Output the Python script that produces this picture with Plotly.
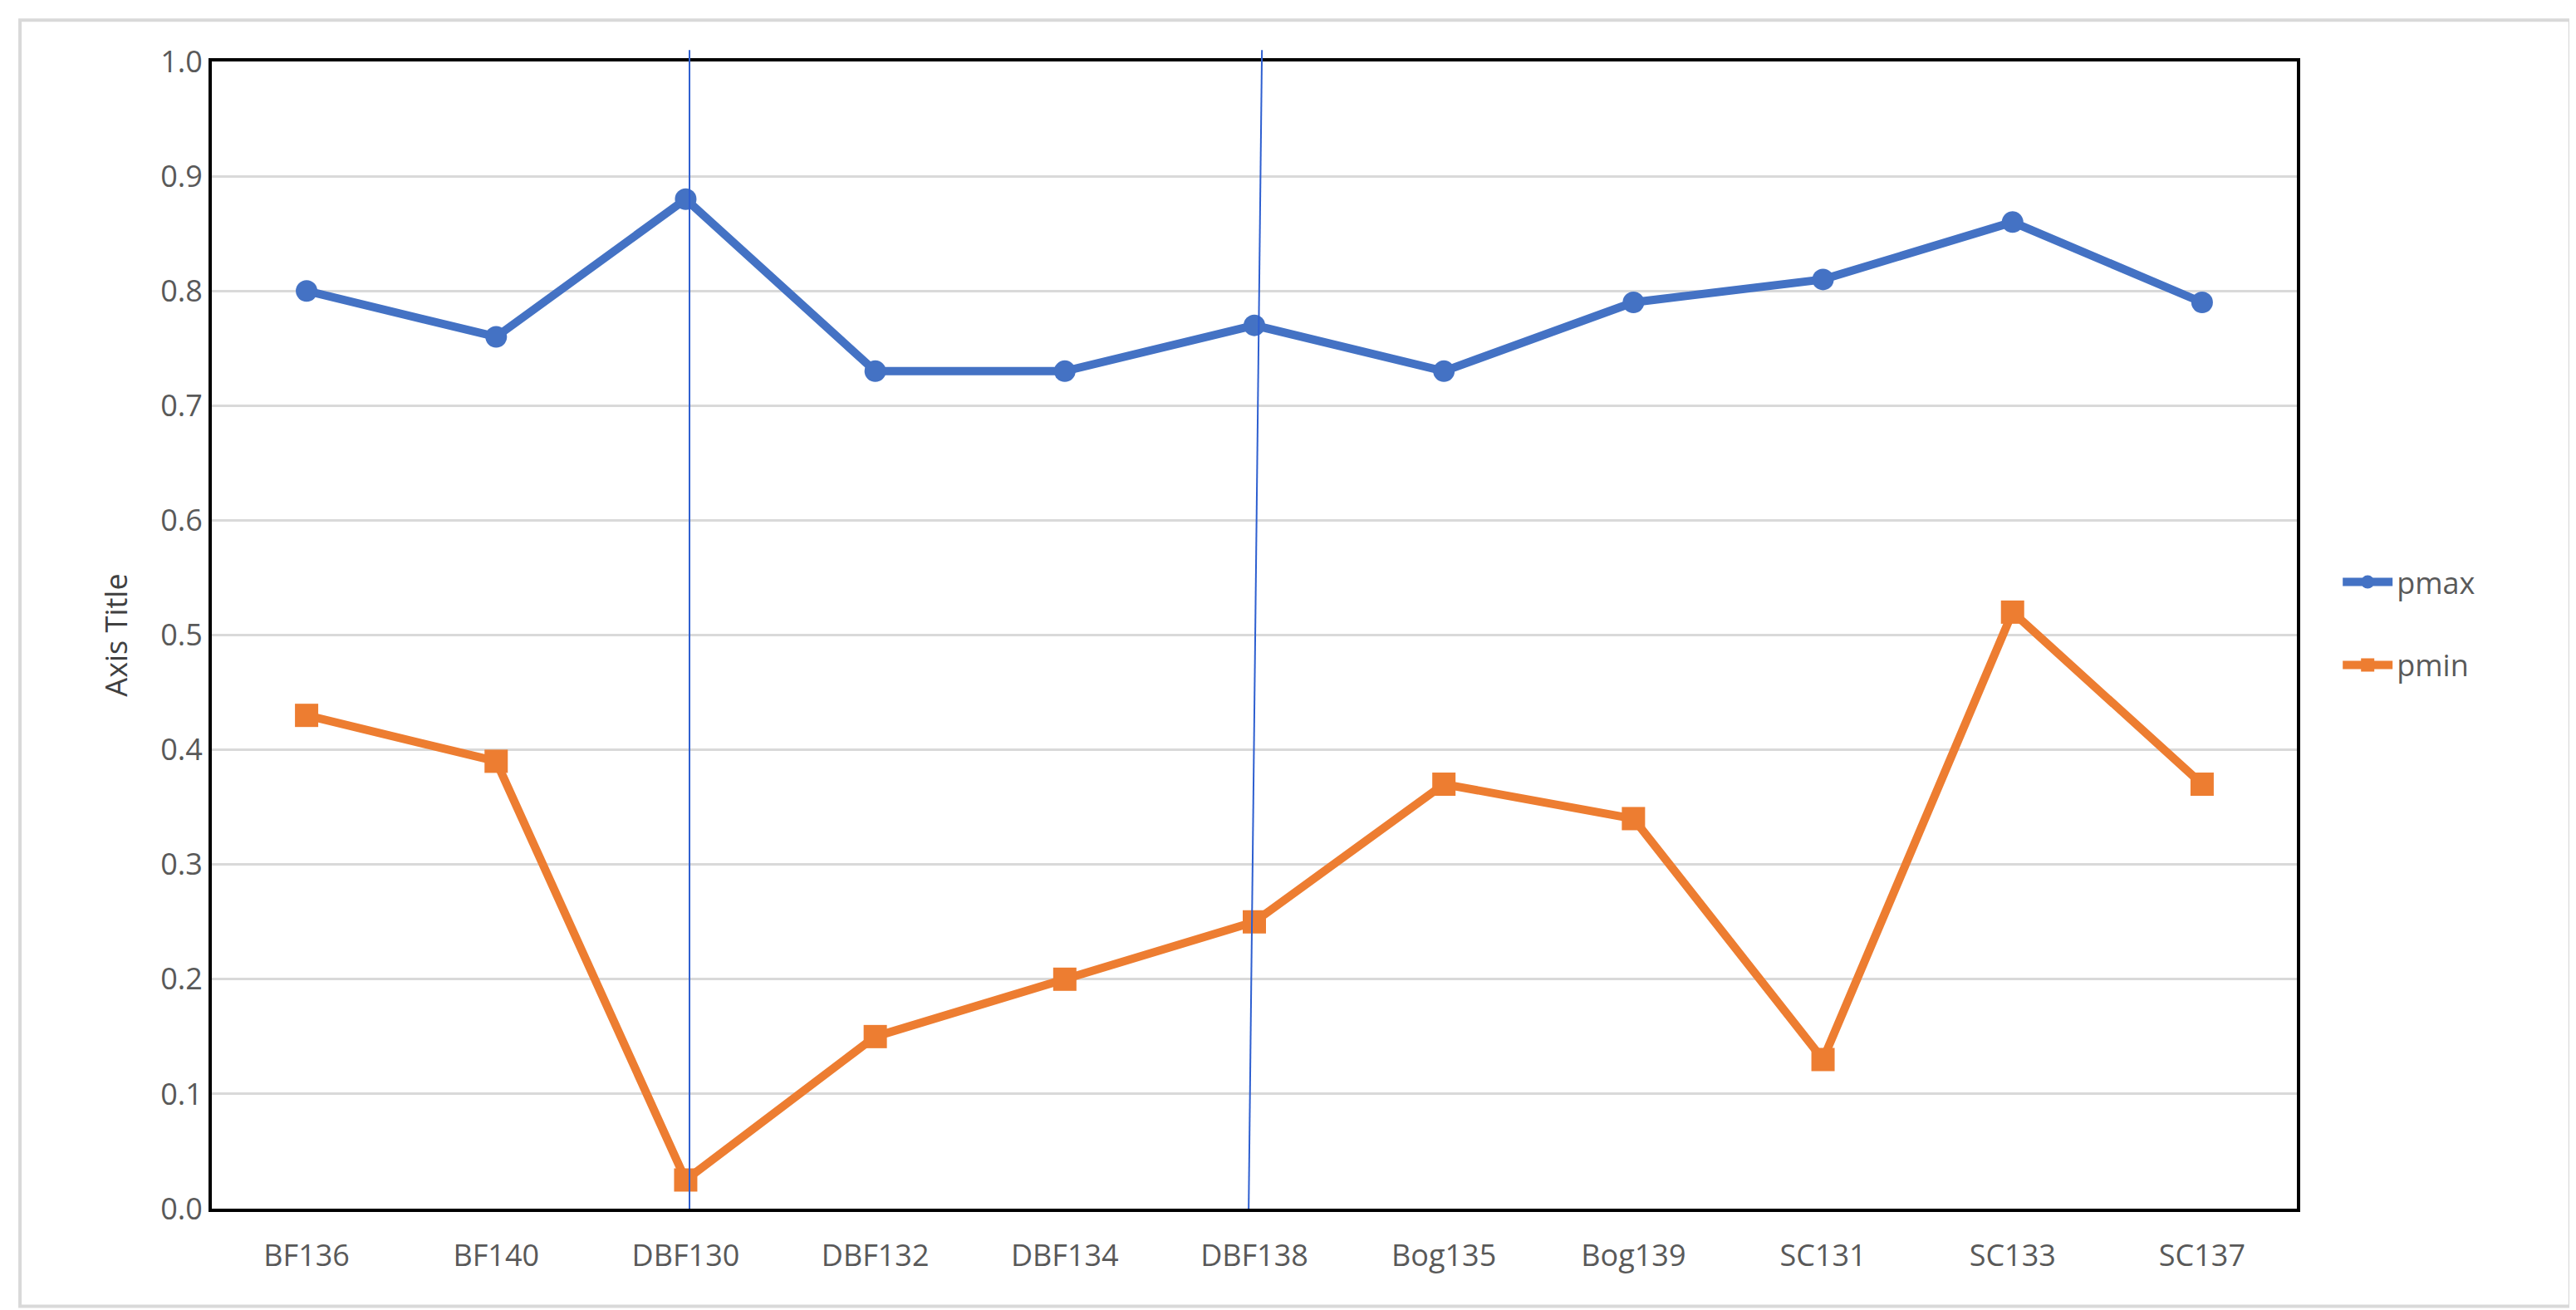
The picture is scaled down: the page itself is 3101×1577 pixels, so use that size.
import plotly.graph_objects as go

categories = ["BF136", "BF140", "DBF130", "DBF132", "DBF134", "DBF138", "Bog135", "Bog139", "SC131", "SC133", "SC137"]
pmax = [0.80, 0.76, 0.88, 0.73, 0.73, 0.77, 0.73, 0.79, 0.81, 0.86, 0.79]
pmin = [0.43, 0.39, 0.025, 0.15, 0.20, 0.25, 0.37, 0.34, 0.13, 0.52, 0.37]
y_ticks = [0.0, 0.1, 0.2, 0.3, 0.4, 0.5, 0.6, 0.7, 0.8, 0.9, 1.0]

xs = list(range(len(categories)))
fig = go.Figure()
fig.add_trace(go.Scatter(x=xs, y=pmax, name="pmax", mode="lines+markers", legendgroup="a",
                         line=dict(color="#4472C4", width=10),
                         marker=dict(symbol="circle", size=26, color="#4472C4")))
fig.add_trace(go.Scatter(x=xs, y=pmin, name="pmin", mode="lines+markers", legendgroup="b",
                         line=dict(color="#ED7D31", width=10),
                         marker=dict(symbol="square", size=28, color="#ED7D31")))

fig.add_shape(type="line", xref="x", yref="paper", x0=2.02, x1=2.02, y0=0, y1=1.01,
              line=dict(color="#2E5FD0", width=2))
fig.add_shape(type="line", xref="x", yref="paper", x0=4.97, x1=5.04, y0=0, y1=1.01,
              line=dict(color="#2E5FD0", width=2))

fig.update_layout(
    width=3101, height=1577,
    paper_bgcolor="white", plot_bgcolor="white",
    margin=dict(l=247, r=344, t=66, b=130),
    font=dict(family="Open Sans", size=36, color="#595959"),
    legend=dict(x=1.02, y=0.51, xanchor="left", yanchor="middle",
                font=dict(size=36, color="#595959"), tracegroupgap=50, itemwidth=60),
    xaxis=dict(range=[-0.5, 10.5], tickmode="array", tickvals=xs, ticktext=categories,
               showgrid=False, showline=True, linecolor="black", linewidth=4, mirror=True,
               ticks="outside", ticklen=22, tickcolor="rgba(0,0,0,0)", zeroline=False),
    yaxis=dict(range=[0, 1.0], tickmode="array", tickvals=y_ticks,
               ticktext=[f"{v:.1f}" for v in y_ticks],
               showgrid=True, gridcolor="#D9D9D9", gridwidth=3,
               showline=True, linecolor="black", linewidth=4, mirror=True,
               ticks="", zeroline=False,
               title=dict(text="Axis Title", font=dict(size=36, color="#404040"), standoff=30)),
)
fig.add_shape(type="rect", xref="paper", yref="paper", x0=-0.092, x1=1.131, y0=-0.085, y1=1.036,
              line=dict(color="#D9D9D9", width=4), layer="below")
fig.write_html("out.html")
